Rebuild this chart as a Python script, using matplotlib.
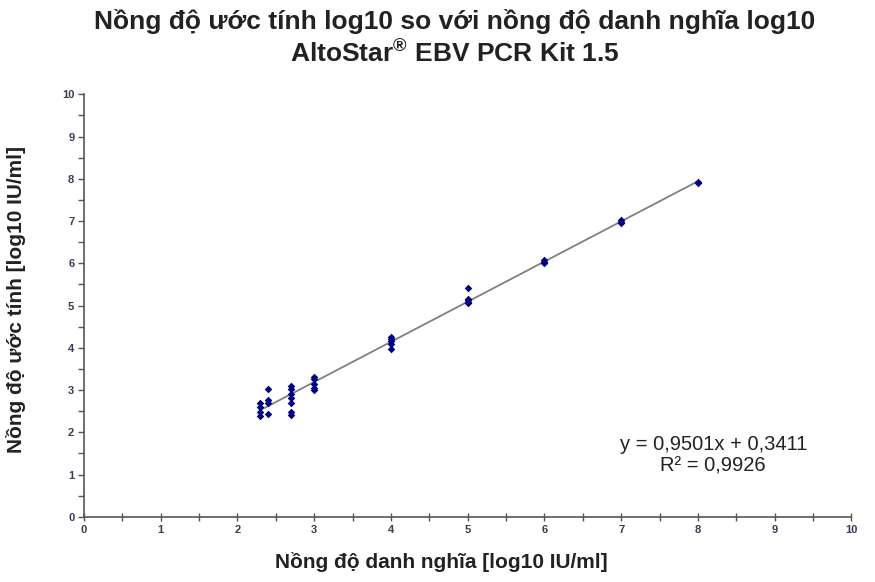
import numpy as np
import matplotlib.pyplot as plt
from matplotlib.ticker import MultipleLocator

plt.rcParams['font.family'] = ['Liberation Sans', 'DejaVu Sans']
plt.rcParams['mathtext.fontset'] = 'custom'
plt.rcParams['mathtext.bf'] = 'Liberation Sans:bold'
plt.rcParams['mathtext.rm'] = 'Liberation Sans'

# nominal concentration (log10 IU/ml) and estimated concentration
nominal = [2.3, 2.3, 2.3, 2.3,
           2.4, 2.4, 2.4, 2.4,
           2.7, 2.7, 2.7, 2.7, 2.7, 2.7, 2.7,
           3.0, 3.0, 3.0, 3.0, 3.0,
           4.0, 4.0, 4.0, 4.0, 4.0,
           5.0, 5.0, 5.0, 5.0, 5.0,
           6.0, 6.0, 6.0,
           7.0, 7.0, 7.0,
           8.0, 8.0]
estimated = [2.69, 2.61, 2.47, 2.39,
             3.03, 2.77, 2.69, 2.44,
             3.10, 3.02, 2.91, 2.81, 2.70, 2.49, 2.41,
             3.30, 3.25, 3.15, 3.05, 2.99,
             4.25, 4.20, 4.15, 4.10, 3.98,
             5.42, 5.15, 5.12, 5.08, 5.05,
             6.08, 6.04, 6.00,
             7.03, 6.98, 6.95,
             7.92, 7.90]

slope = 0.9501
intercept = 0.3411
r_squared = 0.9926

fig = plt.figure(figsize=(8.75, 5.82), dpi=100)
ax = fig.add_axes([0.096, 0.112, 0.877, 0.726])

# trend line over the range of the data
xs = np.array([min(nominal), max(nominal)])
ax.plot(xs, slope * xs + intercept, color='#808080', linewidth=1.3, zorder=2)
ax.scatter(nominal, estimated, marker='D', s=15, color='#000080', zorder=3, linewidths=0)

ax.set_xlim(0, 10)
ax.set_ylim(0, 10)
ax.xaxis.set_major_locator(MultipleLocator(1))
ax.xaxis.set_minor_locator(MultipleLocator(0.5))
ax.yaxis.set_major_locator(MultipleLocator(1))
ax.yaxis.set_minor_locator(MultipleLocator(0.5))

for side in ['top', 'right']:
    ax.spines[side].set_visible(False)
for side in ['left', 'bottom']:
    ax.spines[side].set_color('#555555')
    ax.spines[side].set_linewidth(1.2)

ax.tick_params(axis='x', which='both', direction='inout', length=6, width=1, color='#555555')
ax.tick_params(axis='y', which='both', direction='out', length=4, width=1, color='#555555')
ax.tick_params(axis='both', which='major', labelsize=8, labelcolor='#3a3a55', pad=3)
for lbl in ax.get_xticklabels() + ax.get_yticklabels():
    lbl.set_fontweight('bold')

eq = f"y = {slope:.4f}x + {intercept:.4f}".replace('.', ',')
r2 = f"R² = {r_squared:.4f}".replace('.', ',')
ax.text(8.2, 1.45, eq + "\n" + r2, ha='center', va='center', fontsize=14.5,
        color='#222222', linespacing=1.15)

ax.set_xlabel("Nồng độ danh nghĩa [log10 IU/ml]", fontsize=15, fontweight='bold',
              color='#222222', labelpad=12)
ax.set_ylabel("Nồng độ ước tính [log10 IU/ml]", fontsize=15, fontweight='bold',
              color='#222222', labelpad=26)
ax.xaxis.label.set_x(0.465)
ax.yaxis.label.set_y(0.515)

fig.text(0.52, 0.950, "Nồng độ ước tính log10 so với nồng độ danh nghĩa log10",
         ha='center', va='baseline', fontsize=19, fontweight='bold', color='#222222')
fig.text(0.52, 0.895, r"AltoStar$^{\mathbf{®}}$ EBV PCR Kit 1.5",
         ha='center', va='baseline', fontsize=19, fontweight='bold', color='#222222')

fig.savefig("out.png", dpi=100)
